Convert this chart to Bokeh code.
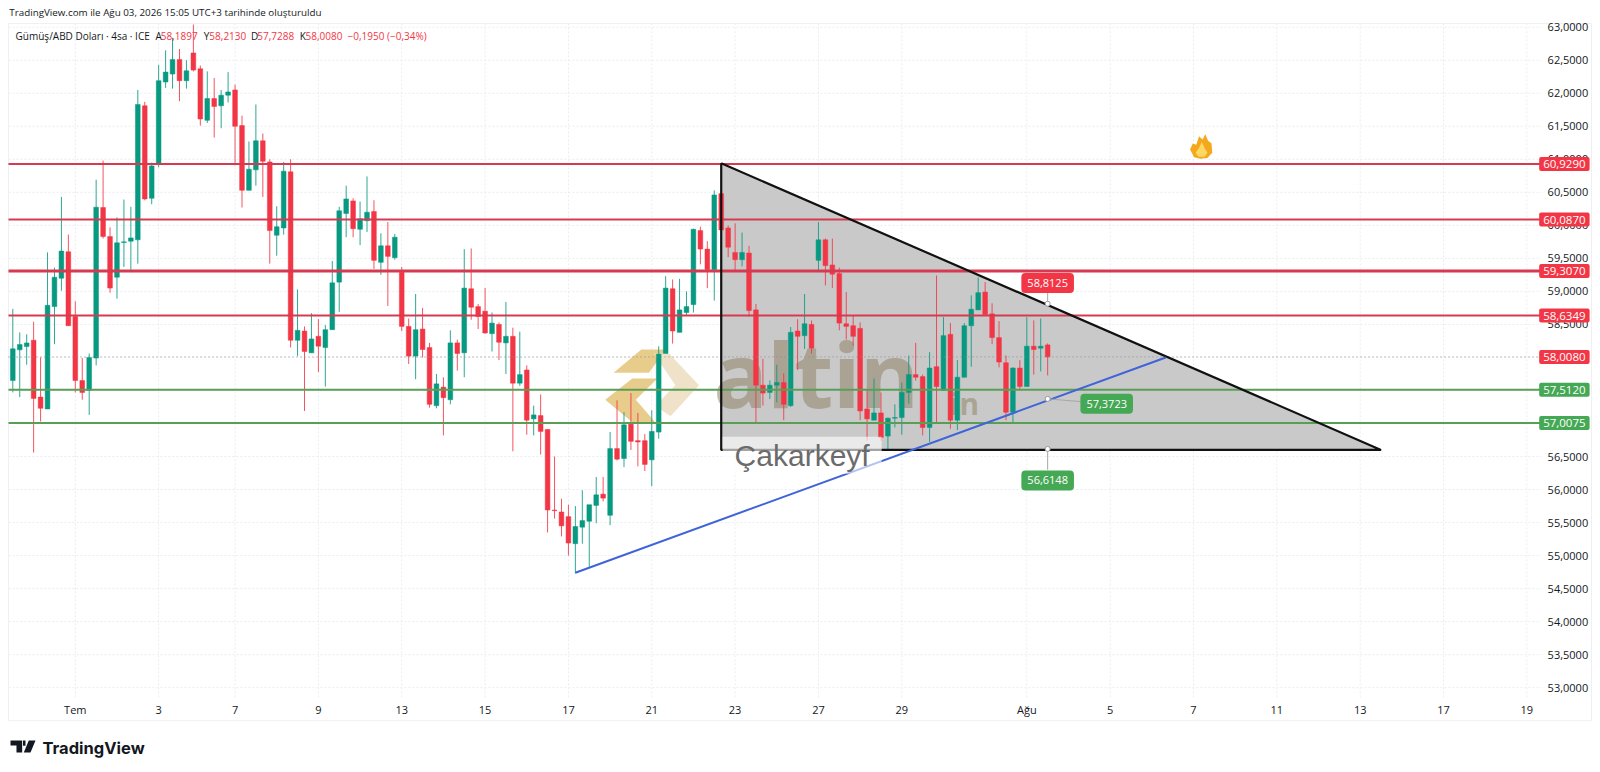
from bokeh.plotting import figure
from bokeh.embed import file_html
from bokeh.resources import INLINE
from bokeh.models import Range1d, FixedTicker, Label, LinearAxis
from bokeh.core.properties import value

# ---- values ----
opens = [57.65,58.115,58.165,58.26,57.40,57.22,58.77,59.20,59.60,58.62,
 57.65,57.50,57.99,60.27,59.83,59.215,59.74,59.76,59.78,61.81,
 60.41,60.94,62.17,62.29,62.51,62.19,62.61,62.37,61.59,61.92,
 61.81,61.97,62.05,61.51,60.53,60.84,61.28,60.96,59.85,59.96,
 60.81,58.26,58.40,58.07,58.32,58.15,58.42,59.14,60.18,60.37,
 59.94,60.07,60.21,59.44,59.69,59.51,59.29,58.47,58.02,58.43,
 58.15,57.27,57.55,57.36,58.22,58.07,59.04,58.77,58.70,58.36,
 58.50,58.22,58.32,57.61,57.81,57.07,57.12,56.91,55.69,55.66,
 55.59,55.18,55.43,55.52,55.76,55.93,55.61,56.62,56.47,56.99,
 56.74,56.74,56.45,56.87,58.06,59.04,58.38,58.68,58.80,59.92,
 59.64,59.33,60.48,59.96,59.59,59.48,59.58,58.72,57.58,57.47,
 57.58,57.62,57.27,58.40,58.33,58.50,59.47,59.78,59.40,59.27,
 58.51,58.48,58.44,57.22,57.05,57.16,56.81,57.08,57.09,57.47,
 57.74,57.71,56.94,57.86,57.50,58.35,57.05,57.70,58.48,58.72,
 58.99,58.66,58.30,57.92,57.17,57.84,57.56,58.17,58.14,58.1897]
highs = [58.735,58.38,58.35,58.54,58.0,59.59,59.36,60.43,59.86,58.85,
 57.99,58.06,60.69,60.98,59.97,60.12,60.39,60.28,62.05,61.87,
 60.95,62.43,62.65,62.84,62.67,62.50,63.04,62.42,62.33,62.23,
 62.05,62.32,62.13,61.66,61.27,61.83,61.39,61.0,60.29,60.96,
 61.0,59.03,58.47,58.67,58.58,58.49,59.46,60.28,60.60,60.41,
 60.36,60.74,60.38,59.88,60.05,59.87,59.37,58.59,58.96,58.75,
 58.22,57.75,57.70,58.41,58.27,59.64,59.65,58.81,59.05,58.68,
 58.53,58.84,58.45,58.39,57.88,57.27,57.44,56.91,56.50,55.86,
 55.77,55.75,55.99,55.77,56.19,56.19,56.87,57.35,57.17,57.46,
 57.16,56.84,57.20,58.17,59.23,59.18,59.19,59.00,59.95,59.98,
 59.76,60.53,60.48,60.00,60.03,59.89,59.69,58.81,57.98,57.65,
 57.89,57.76,58.46,58.58,58.96,58.56,60.05,59.80,59.80,59.36,
 58.99,58.63,58.53,57.50,57.68,57.47,57.09,57.29,57.62,58.03,
 58.22,57.74,58.08,59.24,58.61,58.52,57.96,58.52,58.94,59.21,
 59.14,58.82,58.55,58.03,57.85,57.96,58.61,58.56,58.59,58.213]
lows = [57.47,57.40,57.89,56.56,57.03,57.22,58.20,59.01,58.48,57.47,
 57.36,57.13,57.88,59.80,58.98,58.89,59.37,59.29,59.42,60.38,
 60.32,60.88,62.08,62.07,61.88,62.07,62.33,61.51,61.55,61.33,
 61.47,61.86,60.91,60.27,60.53,60.60,60.43,59.42,59.54,59.86,
 58.15,58.02,57.19,58.07,57.78,57.56,58.42,58.69,59.82,59.82,
 59.70,59.90,59.34,59.25,58.78,59.48,58.40,57.90,57.67,58.00,
 57.24,57.23,56.82,57.29,57.80,57.70,58.57,58.43,58.36,58.09,
 57.96,57.75,56.58,57.57,56.83,56.82,56.53,55.35,55.56,55.29,
 55.00,54.73,55.18,54.83,55.49,55.82,55.46,56.44,56.34,56.60,
 56.35,56.28,56.05,56.77,58.06,58.21,58.38,58.63,58.68,59.41,
 59.05,58.86,59.93,59.52,59.32,59.38,58.62,57.02,57.27,57.37,
 57.32,57.05,57.25,57.81,58.13,58.06,59.29,59.09,59.05,58.41,
 58.27,58.18,57.05,56.74,57.05,56.74,56.59,56.94,56.83,57.30,
 57.65,56.82,56.72,57.02,57.50,56.92,56.90,57.70,57.86,58.72,
 58.65,58.20,57.85,57.05,57.02,57.52,57.56,57.74,57.79,57.7288]
closes = [58.13,58.195,58.22,57.38,57.23,58.79,59.215,59.61,58.48,57.65,
 57.47,58.0,60.275,59.83,59.05,59.735,59.75,59.81,61.83,60.40,
 60.90,62.19,62.32,62.51,62.19,62.34,62.35,61.61,61.92,61.80,
 61.97,62.02,61.50,60.53,60.85,61.28,60.97,59.92,59.98,60.82,
 58.26,58.41,58.09,58.28,58.17,58.42,59.13,60.22,60.40,59.95,
 60.10,60.20,59.47,59.69,59.53,59.82,58.47,58.02,58.42,58.12,
 57.29,57.60,57.39,58.22,58.06,59.05,58.76,58.62,58.37,58.52,
 58.23,58.32,57.61,57.74,57.05,57.13,56.88,55.69,55.68,55.45,
 55.19,55.44,55.53,55.77,55.92,55.87,56.62,56.46,56.98,56.73,
 56.72,56.38,56.88,58.05,59.05,58.40,58.72,58.77,59.94,59.64,
 59.33,60.46,59.93,59.67,59.48,59.59,58.71,57.58,57.46,57.58,
 57.62,57.29,58.38,58.32,58.51,58.14,59.78,59.39,59.26,58.52,
 58.47,58.32,57.19,57.07,57.16,56.79,57.08,57.09,57.47,57.74,
 57.70,56.94,57.84,57.56,58.33,57.05,57.70,58.48,58.73,58.98,
 58.65,58.30,57.93,57.17,57.84,57.56,58.17,58.12,58.17,58.008]

price_ticks = [53.0,53.5,54.0,54.5,55.0,55.5,56.0,56.5,57.0,57.5,58.0,58.5,59.0,59.5,60.0,60.5,61.0,61.5,62.0,62.5,63.0]
time_ticks = [9,21,32,44,56,68,80,92,104,116,128,146,158,170,182,194,206,218]
time_labels = ["Tem","3","7","9","13","15","17","21","23","27","29","Ağu","5","7","11","13","17","19"]
red_levels = [60.929,60.087,59.307,58.6349]
green_levels = [57.512,57.0075]
last_price = 58.008
tri_x = [102,102,197]
tri_y = [60.94,56.60,56.60]
up_x = [81,166]
up_y = [54.74,58.0]
callout_x = 149
callout_prices = [58.8125,57.3723,56.6148]
header = "TradingView.com ile Ağu 03, 2026 15:05 UTC+3 tarihinde oluşturuldu"

RED = "#f23645"; GREEN = "#089981"; TAG_G = "#45a854"; INK = "#131722"
FONT = "Open Sans"
# chart pane limits on the two scales
X_L, X_R, X_AXIS_END = -0.62, 220.12, 227.3
P_T, P_B, P_END = 63.056, 52.853, 52.50

p = figure(width=1600, height=772, output_backend="svg", toolbar_location=None,
           x_range=Range1d(-1.771, 228.6), y_range=Range1d(51.716, 63.404),
           x_axis_location=None, y_axis_location=None,
           min_border_left=0, min_border_top=0, min_border_bottom=0, min_border_right=0,
           outline_line_color=None, background_fill_color="white", border_fill_color="white")
p.grid.visible = False

yax = LinearAxis(fixed_location=X_R)
yax.ticker = FixedTicker(ticks=price_ticks)
yax.major_label_overrides = {t: f"{t:.4f}".replace(".", ",") for t in price_ticks}
yax.major_label_standoff = 6
xax = LinearAxis(fixed_location=P_B)
xax.ticker = FixedTicker(ticks=time_ticks)
xax.major_label_overrides = dict(zip(time_ticks, time_labels))
xax.major_label_standoff = 5
for ax in (xax, yax):
    ax.axis_line_color = None
    ax.major_tick_line_color = None
    ax.major_tick_in = 0
    ax.major_tick_out = 0
    ax.minor_tick_line_color = None
    ax.major_label_text_font = FONT
    ax.major_label_text_font_size = "11px"
    ax.major_label_text_color = INK
p.add_layout(yax, "right")
p.add_layout(xax, "below")

# faint grid and frame
p.segment(X_L, price_ticks, X_R, price_ticks, line_color="#e9ecf2", line_dash="2 2", line_width=1)
p.segment(time_ticks, P_B, time_ticks, P_T, line_color="#e9ecf2", line_dash="2 2", line_width=1)
p.line([X_L,X_AXIS_END,X_AXIS_END,X_L,X_L],[P_T,P_T,P_END,P_END,P_T], line_color="#eef0f4", line_width=1)

# triangle fill
p.patch(tri_x, tri_y, fill_color="#c9c9c9", fill_alpha=1, line_color=None)

# watermark logo
logo_xs = [[86.5,90.5,94,91.6],[85.3,89.2,92.8,89.7,92.5,89.2],[92.3,94.5,98.8,94.7,92.5,95.4]]
logo_ys = [[57.77,58.12,58.12,57.77],[57.36,57.68,57.68,57.36,57.02,57.02],[58.06,58.06,57.58,57.11,57.27,57.58]]
p.patches(logo_xs, logo_ys, fill_color=["#e6c67e","#e6c67e","#eedfc2"], fill_alpha=0.9, line_color=None)
p.text([100.9],[57.76],text=["altin"],text_font=value("Noto Sans"),text_font_style="bold",
       text_font_size="90px",text_color="#8f8468",text_alpha=0.55,text_baseline="alphabetic")
p.text([135.0],[57.31],text=["in"],text_font=value("Noto Sans"),text_font_style="bold",
       text_font_size="30px",text_color="#8f8468",text_alpha=0.55,text_baseline="alphabetic")

# candles
xs = list(range(len(opens)))
cols = [GREEN if c >= o else RED for o, c in zip(opens, closes)]
tops = [max(o, c) for o, c in zip(opens, closes)]
bots = [min(o, c) for o, c in zip(opens, closes)]
p.segment(xs, lows, xs, highs, line_color=cols, line_width=1, line_alpha=0.85)
p.vbar(xs, width=0.68, bottom=bots, top=tops, fill_color=cols, line_color=cols, line_width=0.5)

# levels
for lv in red_levels:
    p.segment(X_L, lv, X_R, lv, line_color="#d63a50", line_width=3 if lv == 59.307 else 2)
for lv in green_levels:
    p.segment(X_L, lv, X_R, lv, line_color="#5a9e56", line_width=2)
p.segment(X_L, last_price, X_R, last_price, line_color="#8c8c8c", line_width=1, line_dash="1 3")

# triangle edges and rising line
p.line(tri_x+[tri_x[0]], tri_y+[tri_y[0]], line_color="#111111", line_width=2.2)
p.line(up_x, up_y, line_color="#3f63d8", line_width=2)

# callouts
p.segment([callout_x,callout_x,callout_x],[59.0,callout_prices[1],callout_prices[2]],
          [callout_x,157.5,callout_x],[callout_prices[0],57.30,56.3],
          line_color="#a8a8a8", line_width=1)
p.scatter([callout_x]*3, callout_prices, size=5, fill_color="white", line_color="#9a9a9a")

def tag(x, y, txt, col, pad=(5,3), size="11px", radius=2):
    p.add_layout(Label(x=x, y=y, text=txt, text_color="white", text_font=FONT,
                       text_font_size=size, text_align="center", text_baseline="middle",
                       background_fill_color=col, padding=pad, border_radius=radius))

tag(149, 59.127, "58,8125", RED, pad=(6,6), radius=4)
tag(157.5, 57.30, "57,3723", TAG_G, pad=(6,6), radius=4)
tag(149, 56.137, "56,6148", TAG_G, pad=(6,6), radius=4)

# price tags on the scale
for lv in red_levels + [last_price]:
    tag(223.4, lv, f"{lv:.4f}".replace(".", ","), RED, pad=(4,3), size="11.5px")
for lv in green_levels:
    tag(223.4, lv, f"{lv:.4f}".replace(".", ","), TAG_G, pad=(4,3), size="11.5px")

# flame
p.patch([169.5,169.9,170.4,170.8,171.3,171.7,172.1,172.6,172.7,172.0,171.0,170.1],
        [61.15,61.24,61.22,61.35,61.30,61.38,61.28,61.24,61.10,61.02,61.01,61.03],
        fill_color="#f4a81d", line_color=None)
p.patch([170.3,170.8,171.2,171.6,172.0,171.6,170.7],[61.10,61.17,61.26,61.17,61.10,61.04,61.04],
        fill_color="#ffd764", line_color=None)

# Çakarkeyf caption
p.add_layout(Label(x=102.2, y=56.52, text="Çakarkeyf", text_color="#6b6b6b",
                   text_font="Liberation Sans", text_font_size="30px", text_align="left",
                   text_baseline="middle", background_fill_color="white",
                   background_fill_alpha=0.62, padding=(12,2)))

# header texts
def txt(x, y, s, col=INK, size="10px", font=FONT, style="normal"):
    p.add_layout(Label(x=x, y=y, text=s, text_color=col, text_font=font, text_font_size=size,
                       text_font_style=style, text_align="left", text_baseline="middle"))

txt(-0.5, 63.22, header, size="9.8px")
ly = 62.87
txt(0.4, ly, "Gümüş/ABD Doları · 4sa · ICE")
for xi, s in [(20.55,"A"),(27.5,"Y"),(34.3,"D"),(41.3,"K")]:
    txt(xi, ly, s)
for xi, s in [(21.3,"58,1897"),(28.3,"58,2130"),(35.2,"57,7288"),(42.15,"58,0080"),(48.2,"−0,1950 (−0,34%)")]:
    txt(xi, ly, s, col=RED)

# TradingView mark
for xs_, ys_ in [([-0.33,1.35,1.35,0.53,0.53,-0.33],[52.20,52.20,52.02,52.02,52.125,52.125]),
                 ([1.47,1.83,1.83,1.47],[52.20,52.20,52.12,52.12]),
                 ([2.3,3.27,2.55,1.58],[52.20,52.20,52.02,52.02])]:
    p.patch(xs_, ys_, fill_color="#131722", line_color=None)
txt(4.28, 52.09, "TradingView", size="16.5px", font="Inter", style="bold")

open("out.html", "w").write(file_html(p, INLINE))
